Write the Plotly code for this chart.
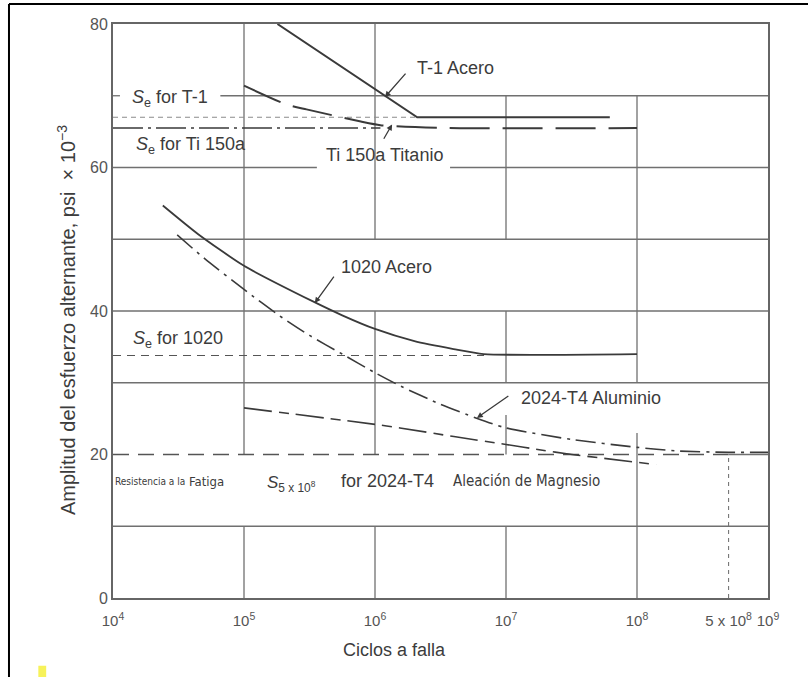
import numpy as np
import plotly.graph_objects as go

# ---- S-N data: cycles to failure vs. alternating stress amplitude (psi x 10^-3) ----
t1_cycles = [1.8e5, 2.1e6, 6.2e7]
t1_stress = [80.0, 67.0, 67.0]

ti_cycles = [1.0e5, 2.1e5, 3.0e5, 7.8e5, 1.1e6, 3.7e6, 1.0e8]
ti_stress = [71.4, 68.8, 68.1, 66.4, 65.9, 65.5, 65.5]

s1020_cycles = [2.4e4, 4.47e4, 1.0e5, 3.39e5, 5.62e5, 1.0e6, 2.0e6, 3.98e6, 6.76e6, 1.0e8]
s1020_stress = [54.7, 50.7, 46.3, 41.3, 39.4, 37.5, 35.8, 34.7, 34.0, 34.0]

al_cycles = [3.09e4, 5.01e4, 1.0e5, 1.88e5, 3.16e5, 5.62e5, 1.0e6, 1.58e6, 3.16e6,
             5.89e6, 1.0e7, 3.16e7, 1.0e8, 2.0e8, 5.0e8, 1.0e9]
al_stress = [50.6, 47.3, 43.0, 39.3, 36.6, 34.0, 31.4, 29.5, 27.0,
             25.1, 23.7, 22.1, 21.0, 20.5, 20.3, 20.3]

mg_cycles = [1.0e5, 1.0e6, 1.55e6, 4.0e6, 1.0e7, 1.9e7, 2.9e7, 1.4e8]
mg_stress = [26.5, 24.2, 23.7, 22.5, 21.4, 20.6, 20.1, 18.6]

# endurance limits and the cycle span each reference line covers
se_t1, se_t1_span = 67.0, [1e4, 2.1e6]
se_ti, se_ti_span = 65.5, [1e4, 1.1e6]
se_1020, se_1020_span = 33.8, [1e4, 6.8e6]
fatigue_al, fatigue_n = 20.0, 5e8

# axis ticks
x_tickvals = [1e4, 1e5, 1e6, 1e7, 1e8, 5e8, 1e9]
x_ticktext = ["10<sup>4</sup>", "10<sup>5</sup>", "10<sup>6</sup>", "10<sup>7</sup>",
              "10<sup>8</sup>", "5 x 10<sup>8</sup>", "10<sup>9</sup>"]
y_tickvals = [0, 20, 40, 60, 80]

# grid drawn as broken segments: (level, start, end)
grid_h = [(70, 1e4, 1.13e4), (70, 6.6e4, 1e9),
          (60, 1e4, 3.6e5), (60, 3.74e6, 1e9),
          (50, 1e4, 1e9), (40, 1e4, 1e9), (30, 1e4, 1e9), (10, 1e4, 1e9),
          (20, 5e8, 1e9)]
grid_v = [(1e5, 20, 80), (1e5, 0, 10),
          (1e6, 50, 80), (1e6, 20, 40), (1e6, 0, 10),
          (1e7, 50, 70), (1e7, 30, 40), (1e7, 20, 25.5), (1e7, 0, 10),
          (1e8, 30, 70), (1e8, 0, 23)]

INK = "#3a3a3a"
GRID = "#707070"
TXT = "#3c3c3c"
FONT = "Liberation Sans, Arial, sans-serif"
COND = "DejaVu Sans Condensed, Liberation Sans, sans-serif"

fig = go.Figure()

# grid
gx, gy = [], []
for lvl, a, b in grid_h:
    gx += [a, b, None]
    gy += [lvl, lvl, None]
for xv, a, b in grid_v:
    gx += [xv, xv, None]
    gy += [a, b, None]
fig.add_trace(go.Scatter(x=gx, y=gy, mode="lines", line=dict(color=GRID, width=1.3),
                         hoverinfo="skip"))

# endurance reference lines
fig.add_trace(go.Scatter(x=se_t1_span, y=[se_t1, se_t1], mode="lines",
                         line=dict(color="#8a8a8a", width=1.1, dash="5px,4px")))
fig.add_trace(go.Scatter(x=se_ti_span, y=[se_ti, se_ti], mode="lines",
                         line=dict(color=INK, width=1.6, dash="30px,5px,3px,5px")))
fig.add_trace(go.Scatter(x=se_1020_span, y=[se_1020, se_1020], mode="lines",
                         line=dict(color="#555555", width=1.2, dash="8px,6px")))
fig.add_trace(go.Scatter(x=[1e4, fatigue_n], y=[fatigue_al, fatigue_al], mode="lines",
                         line=dict(color="#555555", width=1.4, dash="16px,9px")))
fig.add_trace(go.Scatter(x=[fatigue_n, fatigue_n], y=[0, fatigue_al], mode="lines",
                         line=dict(color="#777777", width=1.1, dash="4px,4px")))

# S-N curves
fig.add_trace(go.Scatter(x=t1_cycles, y=t1_stress, mode="lines",
                         line=dict(color=INK, width=2)))
fig.add_trace(go.Scatter(x=ti_cycles, y=ti_stress, mode="lines",
                         line=dict(color=INK, width=2, dash="40px,13px", shape="spline",
                                   smoothing=0.6)))
fig.add_trace(go.Scatter(x=s1020_cycles, y=s1020_stress, mode="lines",
                         line=dict(color=INK, width=1.8, shape="spline", smoothing=0.6)))
fig.add_trace(go.Scatter(x=al_cycles, y=al_stress, mode="lines",
                         line=dict(color=INK, width=1.6, dash="20px,6px,3px,6px",
                                   shape="spline", smoothing=0.6)))
fig.add_trace(go.Scatter(x=mg_cycles, y=mg_stress, mode="lines",
                         line=dict(color=INK, width=1.6, dash="28px,7px,10px,7px",
                                   shape="spline", smoothing=0.6)))

lg = np.log10
annotations = []


def label(text, x, y, size=18, family=FONT, xanchor="center"):
    annotations.append(dict(x=lg(x), y=y, xref="x", yref="y", text=text, showarrow=False,
                            xanchor=xanchor, yanchor="middle",
                            font=dict(family=family, size=size, color=TXT)))


def leader(tip_x, tip_y, tail_x, tail_y):
    annotations.append(dict(x=lg(tip_x), y=tip_y, ax=lg(tail_x), ay=tail_y,
                            xref="x", yref="y", axref="x", ayref="y", text="",
                            showarrow=True, arrowhead=2, arrowsize=0.9,
                            arrowwidth=1.3, arrowcolor=INK))


S = "<i>S</i>"
label("T-1 Acero", 4.1e6, 73.8)
label(S + "<sub>e</sub> for T-1", 2.72e4, 69.6)
label(S + "<sub>e</sub> for Ti 150a", 3.94e4, 63.0)
label("Ti 150a Titanio", 1.19e6, 61.7)
label("1020 Acero", 1.23e6, 46.1)
label(S + "<sub>e</sub> for 1020", 3.16e4, 36.0)
label("2024-T4 Aluminio", 4.47e7, 27.9)
label("Resistencia a la", 1.0e4, 16.3, size=10, family=COND, xanchor="left")
label("Fatiga", 3.7e4, 16.3, size=13, family=COND, xanchor="left")
label(S + "<sub>5 x 10<sup>8</sup></sub>", 1.45e5, 15.9, size=17, xanchor="left")
label("for 2024-T4", 5.3e5, 16.3, size=18, xanchor="left")
label("Aleación de Magnesio", 3.8e6, 16.3, size=15, family=COND, xanchor="left")

leader(1.19e6, 69.8, 1.75e6, 73.3)
leader(1.35e6, 66.0, 1.15e6, 63.8)
leader(3.47e5, 41.1, 4.95e5, 45.0)
leader(6.0e6, 25.1, 1.07e7, 28.3)

# axis titles
annotations.append(dict(x=-0.071, y=0.485, xref="paper", yref="paper", showarrow=False,
                        xanchor="center", yanchor="middle",
                        text="Amplitud del esfuerzo alternante, psi  × 10<sup>−3</sup>",
                        textangle=-90, font=dict(family=FONT, size=20, color=TXT)))
annotations.append(dict(x=0.4305, y=-0.091, xref="paper", yref="paper", showarrow=False,
                        xanchor="center", yanchor="middle",
                        text="Ciclos a falla", font=dict(family=FONT, size=18, color=TXT)))

shapes = [
    # page border of the scanned sheet
    dict(type="line", xref="paper", yref="paper", x0=-0.1588, x1=1.07, y0=1.0348, y1=1.0348,
         line=dict(color="black", width=2)),
    dict(type="line", xref="paper", yref="paper", x0=-0.1588, x1=-0.1588, y0=1.0348, y1=-0.14,
         line=dict(color="black", width=2)),
    dict(type="rect", xref="paper", yref="paper", x0=-0.114, x1=-0.102, y0=-0.118, y1=-0.14,
         fillcolor="#f7f25a", line=dict(width=0)),
]

fig.update_layout(
    width=808, height=677,
    margin=dict(l=113, r=40, t=24, b=79),
    paper_bgcolor="white", plot_bgcolor="white",
    showlegend=False,
    annotations=annotations,
    shapes=shapes,
    xaxis=dict(type="log", range=[4, 9], showgrid=False, zeroline=False,
               tickvals=x_tickvals, ticktext=x_ticktext, ticks="",
               ticklabelstandoff=8,
               tickfont=dict(family=FONT, size=15, color="#555555"),
               showline=True, mirror=True, linecolor="#666666", linewidth=2),
    yaxis=dict(range=[0, 80], showgrid=False, zeroline=False,
               tickvals=y_tickvals, ticks="",
               tickfont=dict(family=FONT, size=16, color="#555555"),
               showline=True, mirror=True, linecolor="#666666", linewidth=2),
)

fig.write_html("out.html")
